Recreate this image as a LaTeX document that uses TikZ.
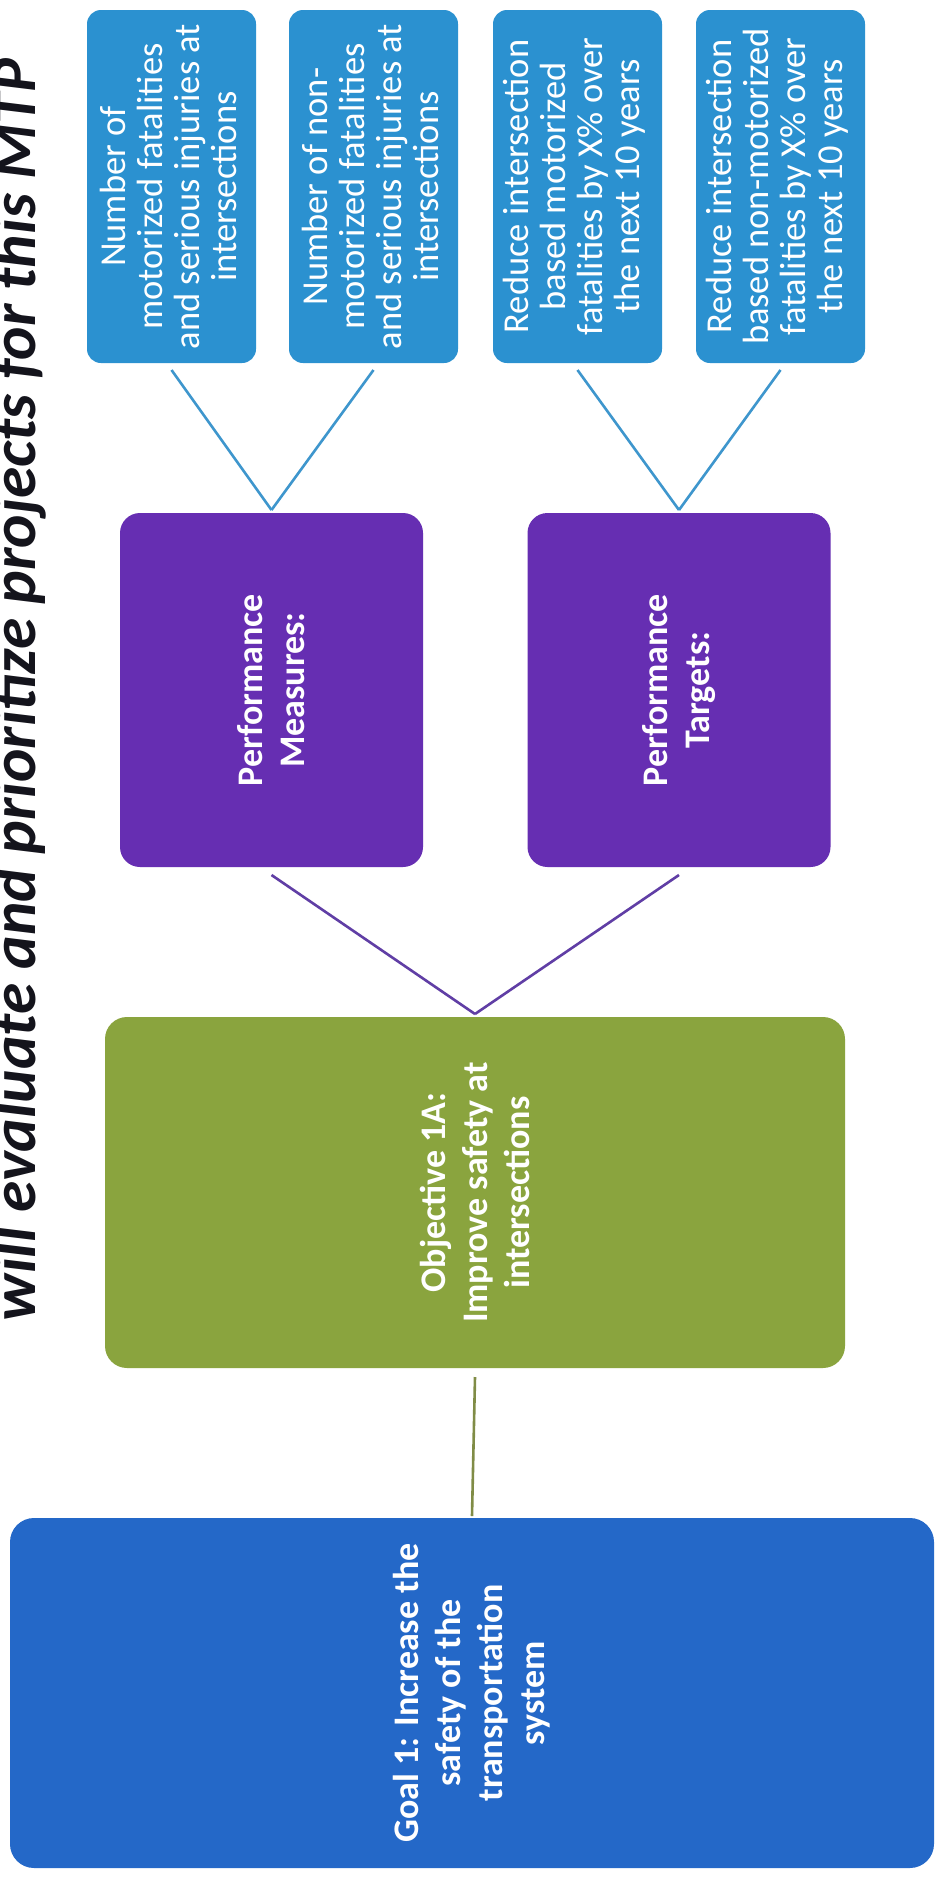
\documentclass[tikz,border=0pt]{standalone}
\usepackage{fontspec}
\setmainfont{Carlito}
\definecolor{lblue}{RGB}{43,145,208}
\definecolor{pbox}{RGB}{102,46,178}
\definecolor{gbox}{RGB}{138,164,62}
\definecolor{goalblue}{RGB}{36,104,200}
\definecolor{bline}{RGB}{62,150,205}
\definecolor{pline}{RGB}{96,62,165}
\definecolor{gline}{RGB}{128,140,70}
\definecolor{titlecol}{RGB}{20,20,28}
\begin{document}
\begin{tikzpicture}[x=1pt,y=-1pt,
  boxbase/.style={inner sep=0pt, outer sep=0pt, draw=none},
  mbox/.style={boxbase, fill=lblue, rounded corners=14pt, minimum width=169pt, minimum height=353pt},
  pbx/.style={boxbase, fill=pbox, rounded corners=20pt, minimum width=303pt, minimum height=354pt},
  gbx/.style={boxbase, fill=gbox, rounded corners=22pt, minimum width=740pt, minimum height=351pt},
  goalbx/.style={boxbase, fill=goalblue, rounded corners=24pt, minimum width=924pt, minimum height=350pt},
  rtxt/.style={rotate=90, text=white, align=center, inner sep=0pt, font=\fontsize{36.5}{37}\selectfont},
  btxt/.style={rotate=90, text=white, align=center, inner sep=0pt, font=\fontsize{36}{42}\selectfont\bfseries},
  bl/.style={draw=bline, line width=2.6pt},
  pl/.style={draw=pline, line width=2.6pt},
  gl/.style={draw=gline, line width=2.6pt},
  ttl/.style={rotate=90, anchor=base, text=titlecol, inner sep=0pt, font=\fontsize{63.5}{70}\selectfont\bfseries\itshape}
]
\useasboundingbox (0,0) rectangle (938,1877);
\fill[white] (0,0) rectangle (938,1877);

% title
\node[ttl] (title) at (35,690) {will evaluate and prioritize projects for this MTP};

% measure / target boxes
\node[mbox] (b1) at (171.5,186.5) {};
\node[mbox] (b2) at (373.5,186.5) {};
\node[mbox] (b3) at (577.5,186.5) {};
\node[mbox] (b4) at (780.5,186.5) {};
\node[rtxt] (t1) at ([xshift=-3pt]b1.center) {Number of\\motorized fatalities\\and serious injuries at\\intersections};
\node[rtxt] (t2) at ([xshift=-3pt]b2.center) {Number of non-\\motorized fatalities\\and serious injuries at\\intersections};
\node[rtxt] (t3) at ([xshift=-3pt]b3.center) {Reduce intersection\\based motorized\\fatalities by X\% over\\the next 10 years};
\node[rtxt] (t4) at ([xshift=-3pt]b4.center) {Reduce intersection\\based non-motorized\\fatalities by X\% over\\the next 10 years};

% performance boxes
\node[pbx] (pm) at (271.5,690) {};
\node[pbx] (pt) at (679,690) {};
\node[btxt] (tpm) at (pm.center) {Performance\\Measures:};
\node[btxt] (tpt) at (pt.center) {Performance\\Targets:};

% objective
\node[gbx] (obj) at (475,1192.5) {};
\node[btxt] (tobj) at (obj.center) {Objective 1A:\\Improve safety at\\intersections};

% goal
\node[goalbx] (goal) at (472,1693) {};
\node[btxt] (tgoal) at (goal.center) {Goal 1: Increase the\\safety of the\\transportation\\system};

% connectors
\draw[bl] ([yshift=3pt]pm.north) -- ([yshift=-7pt]b1.south);
\draw[bl] ([yshift=3pt]pm.north) -- ([yshift=-7pt]b2.south);
\draw[bl] ([yshift=3pt]pt.north) -- ([yshift=-7pt]b3.south);
\draw[bl] ([yshift=3pt]pt.north) -- ([yshift=-7pt]b4.south);
\draw[pl] ([yshift=3pt]obj.north) -- ([yshift=-8pt]pm.south);
\draw[pl] ([yshift=3pt]obj.north) -- ([yshift=-8pt]pt.south);
\draw[gl] ([yshift=-9pt]obj.south) -- ([yshift=2pt]goal.north);
\end{tikzpicture}
\end{document}
